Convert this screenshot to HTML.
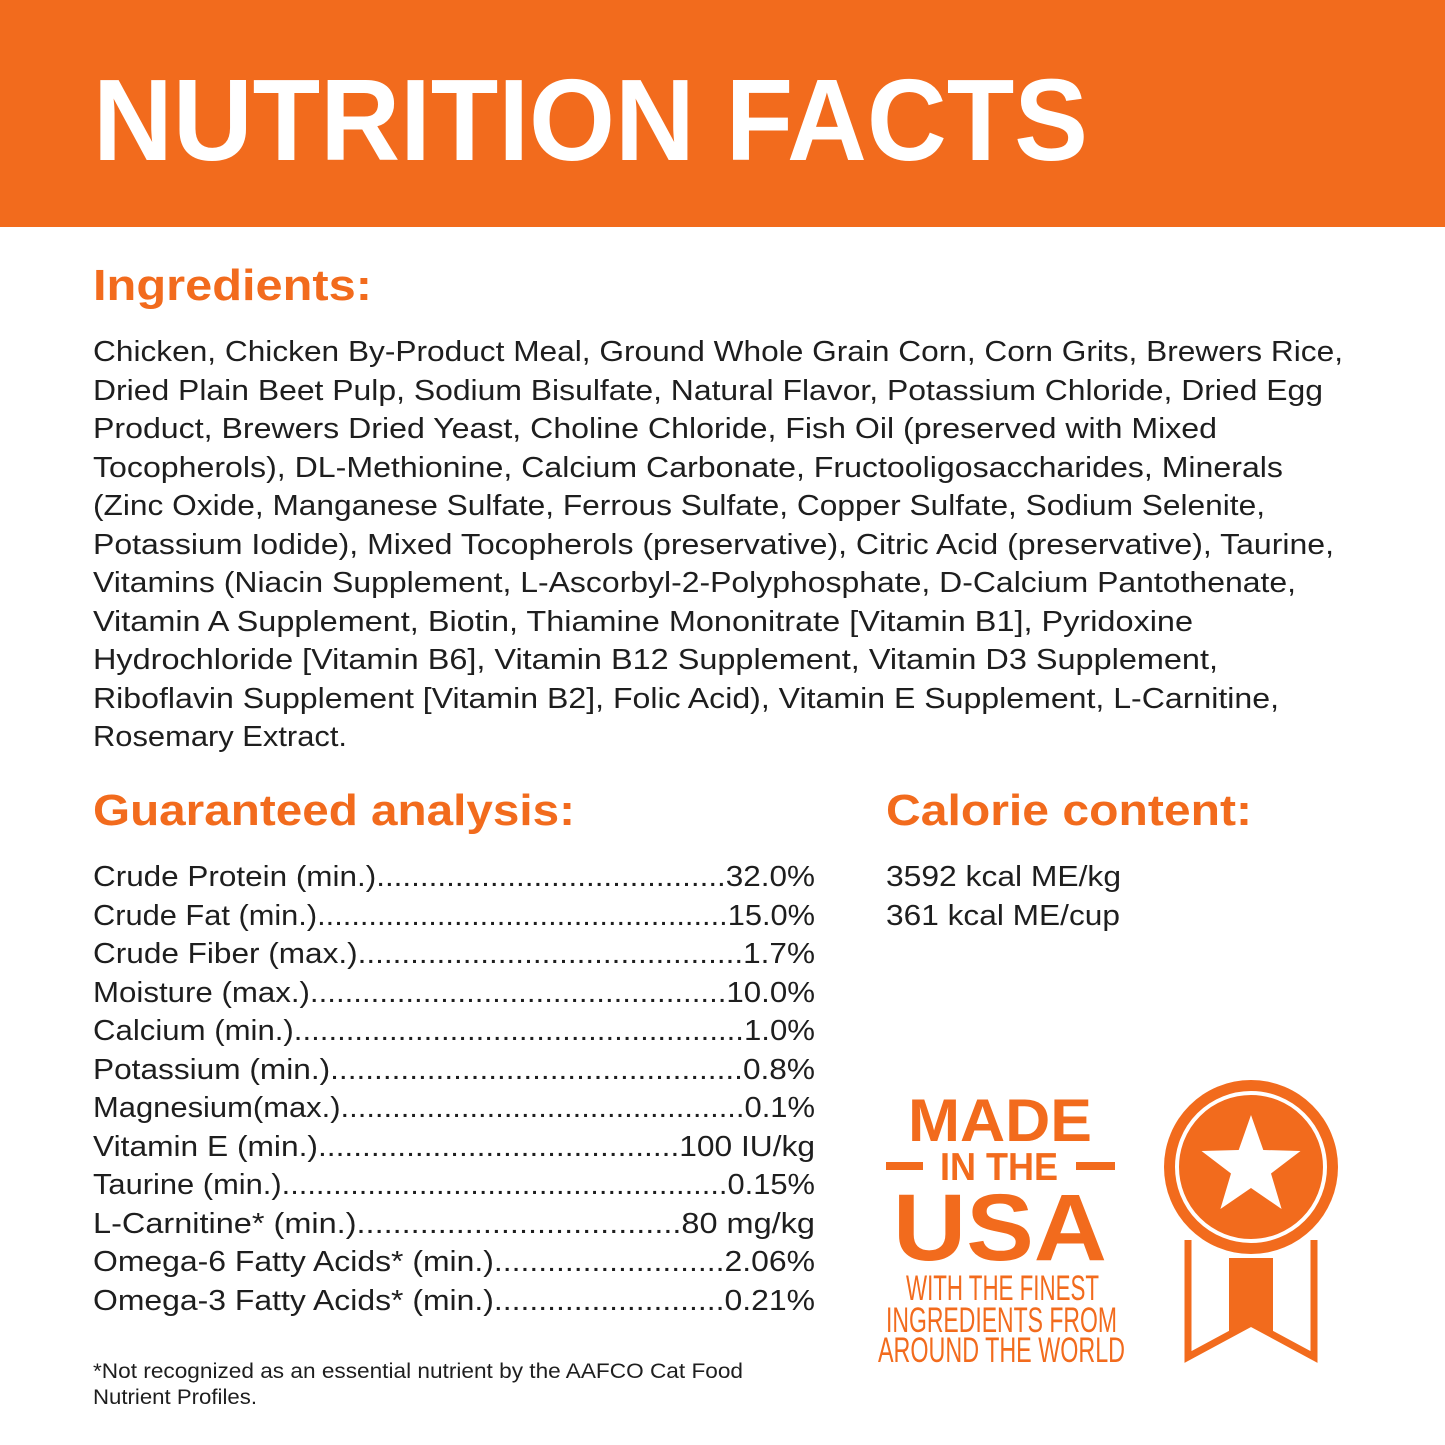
<!DOCTYPE html>
<html><head><meta charset="utf-8"><style>
html,body{margin:0;padding:0;background:#fff;}
svg{display:block;}
.b{font-family:"Liberation Sans",sans-serif;font-size:29px;fill:#1e1e1e;}
.h{font-family:"Liberation Sans",sans-serif;font-size:44px;font-weight:bold;fill:#f26b1d;}
.f{font-family:"Liberation Sans",sans-serif;font-size:21px;fill:#1e1e1e;}
.o{font-family:"Liberation Sans",sans-serif;font-weight:bold;fill:#f26b1d;}
.c{font-family:"Liberation Sans Narrow","Liberation Sans",sans-serif;fill:#f26b1d;}
</style></head><body>
<svg width="1445" height="1445" viewBox="0 0 1445 1445" xmlns="http://www.w3.org/2000/svg">
<rect width="1445" height="1445" fill="#fff"/>
<rect width="1445" height="227" fill="#f26b1d"/>
<text x="93" y="160" font-family="Liberation Sans,sans-serif" font-weight="bold" font-size="116" fill="#fff" textLength="995" lengthAdjust="spacingAndGlyphs">NUTRITION FACTS</text>

<text class="h" x="93" y="300" textLength="279" lengthAdjust="spacingAndGlyphs">Ingredients:</text>
<g class="b" lengthAdjust="spacingAndGlyphs">
<text x="93" y="361" textLength="1250" lengthAdjust="spacingAndGlyphs">Chicken, Chicken By-Product Meal, Ground Whole Grain Corn, Corn Grits, Brewers Rice,</text>
<text x="93" y="400" textLength="1230" lengthAdjust="spacingAndGlyphs">Dried Plain Beet Pulp, Sodium Bisulfate, Natural Flavor, Potassium Chloride, Dried Egg</text>
<text x="93" y="438" textLength="1124" lengthAdjust="spacingAndGlyphs">Product, Brewers Dried Yeast, Choline Chloride, Fish Oil (preserved with Mixed</text>
<text x="93" y="477" textLength="1190" lengthAdjust="spacingAndGlyphs">Tocopherols), DL-Methionine, Calcium Carbonate, Fructooligosaccharides, Minerals</text>
<text x="93" y="515" textLength="1172" lengthAdjust="spacingAndGlyphs">(Zinc Oxide, Manganese Sulfate, Ferrous Sulfate, Copper Sulfate, Sodium Selenite,</text>
<text x="93" y="554" textLength="1241" lengthAdjust="spacingAndGlyphs">Potassium Iodide), Mixed Tocopherols (preservative), Citric Acid (preservative), Taurine,</text>
<text x="93" y="592" textLength="1203" lengthAdjust="spacingAndGlyphs">Vitamins (Niacin Supplement, L-Ascorbyl-2-Polyphosphate, D-Calcium Pantothenate,</text>
<text x="93" y="631" textLength="1100" lengthAdjust="spacingAndGlyphs">Vitamin A Supplement, Biotin, Thiamine Mononitrate [Vitamin B1], Pyridoxine</text>
<text x="93" y="669" textLength="1125" lengthAdjust="spacingAndGlyphs">Hydrochloride [Vitamin B6], Vitamin B12 Supplement, Vitamin D3 Supplement,</text>
<text x="93" y="708" textLength="1186" lengthAdjust="spacingAndGlyphs">Riboflavin Supplement [Vitamin B2], Folic Acid), Vitamin E Supplement, L-Carnitine,</text>
<text x="93" y="746" textLength="254" lengthAdjust="spacingAndGlyphs">Rosemary Extract.</text>
</g>

<text class="h" x="93" y="825" textLength="482" lengthAdjust="spacingAndGlyphs">Guaranteed analysis:</text>
<text class="h" x="886" y="825" textLength="366" lengthAdjust="spacingAndGlyphs">Calorie content:</text>

<g class="b">
<text x="93" y="886" textLength="722" lengthAdjust="spacingAndGlyphs">Crude Protein (min.)........................................32.0%</text>
<text x="93" y="925" textLength="722" lengthAdjust="spacingAndGlyphs">Crude Fat (min.)................................................15.0%</text>
<text x="93" y="963" textLength="722" lengthAdjust="spacingAndGlyphs">Crude Fiber (max.)............................................1.7%</text>
<text x="93" y="1002" textLength="722" lengthAdjust="spacingAndGlyphs">Moisture (max.)................................................10.0%</text>
<text x="93" y="1040" textLength="722" lengthAdjust="spacingAndGlyphs">Calcium (min.)....................................................1.0%</text>
<text x="93" y="1079" textLength="722" lengthAdjust="spacingAndGlyphs">Potassium (min.)...............................................0.8%</text>
<text x="93" y="1117" textLength="722" lengthAdjust="spacingAndGlyphs">Magnesium(max.)...............................................0.1%</text>
<text x="93" y="1156" textLength="722" lengthAdjust="spacingAndGlyphs">Vitamin E (min.).........................................100 IU/kg</text>
<text x="93" y="1194" textLength="722" lengthAdjust="spacingAndGlyphs">Taurine (min.)....................................................0.15%</text>
<text x="93" y="1233" textLength="722" lengthAdjust="spacingAndGlyphs">L-Carnitine* (min.)....................................80 mg/kg</text>
<text x="93" y="1271" textLength="722" lengthAdjust="spacingAndGlyphs">Omega-6 Fatty Acids* (min.)..........................2.06%</text>
<text x="93" y="1310" textLength="722" lengthAdjust="spacingAndGlyphs">Omega-3 Fatty Acids* (min.)..........................0.21%</text>
<text x="886" y="886" textLength="235" lengthAdjust="spacingAndGlyphs">3592 kcal ME/kg</text>
<text x="886" y="925" textLength="234" lengthAdjust="spacingAndGlyphs">361 kcal ME/cup</text>
</g>

<text class="f" x="93" y="1378" textLength="650" lengthAdjust="spacingAndGlyphs">*Not recognized as an essential nutrient by the AAFCO Cat Food</text>
<text class="f" x="93" y="1404" textLength="164" lengthAdjust="spacingAndGlyphs">Nutrient Profiles.</text>

<!-- Made in USA -->
<text class="o" x="908" y="1141" font-size="60" textLength="184" lengthAdjust="spacingAndGlyphs">MADE</text>
<rect x="886" y="1162" width="37" height="8" fill="#f26b1d"/>
<rect x="1076" y="1162" width="39" height="8" fill="#f26b1d"/>
<text class="o" x="940" y="1180" font-size="39" textLength="118" lengthAdjust="spacingAndGlyphs">IN THE</text>
<text class="o" x="893" y="1260" font-size="95" textLength="214" lengthAdjust="spacingAndGlyphs">USA</text>
<text class="c" x="906" y="1300" font-size="35" textLength="193" lengthAdjust="spacingAndGlyphs">WITH THE FINEST</text>
<text class="c" x="886" y="1332" font-size="35" textLength="231" lengthAdjust="spacingAndGlyphs">INGREDIENTS FROM</text>
<text class="c" x="878" y="1362" font-size="35" textLength="247" lengthAdjust="spacingAndGlyphs">AROUND THE WORLD</text>

<!-- Medal -->
<path d="M1188 1240 L1188 1357 L1251 1323 L1314 1357 L1314 1240" fill="#fff" stroke="#f26b1d" stroke-width="7" stroke-linejoin="miter"/>
<path d="M1229 1258 L1273 1258 L1273 1335 L1251 1323 L1229 1335 Z" fill="#f26b1d"/>
<circle cx="1251" cy="1167" r="87" fill="#f26b1d"/>
<circle cx="1251" cy="1167" r="74" fill="none" stroke="#fff" stroke-width="4"/>
<polygon fill="#fff" points="1251,1115 1263.3,1150 1300.5,1151 1271,1173.5 1281.6,1209 1251,1188 1220.4,1209 1231,1173.5 1201.5,1151 1238.7,1150"/>
</svg>
</body></html>
